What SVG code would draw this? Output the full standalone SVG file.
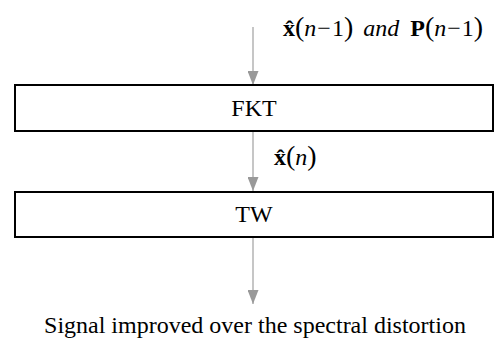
<svg xmlns="http://www.w3.org/2000/svg" width="495" height="342" viewBox="0 0 495 342">
<style>
.box{fill:#fff;stroke:#000;stroke-width:2}
.lbl{font-family:"Liberation Serif","Times New Roman","DejaVu Serif",serif;font-size:24px;fill:#000}
.conn{stroke:#b3b3b3;stroke-width:1.5;fill:none}
.b{font-weight:bold}
.i{font-style:italic}
.p{font-size:28px}
</style>
<defs>
<marker id="ah" markerUnits="userSpaceOnUse" markerWidth="14" markerHeight="11" refX="14" refY="5.5" orient="auto" viewBox="0 0 14 11">
<path d="M0,0 L14,5.5 L0,11 z" fill="#999"/>
</marker>
</defs>
<rect width="495" height="342" fill="#fff"/>
<g id="connectors">
<line class="conn" x1="253" y1="27" x2="253" y2="85" marker-end="url(#ah)"/>
<line class="conn" x1="253" y1="132" x2="253" y2="191" marker-end="url(#ah)"/>
<line class="conn" x1="253" y1="238" x2="253" y2="304" marker-end="url(#ah)"/>
</g>
<g id="input">
<text class="lbl" x="283" y="36"><tspan class="b">x̂</tspan><tspan class="p">(</tspan><tspan class="i">n</tspan><tspan dx="1">−</tspan><tspan dx="1">1</tspan><tspan class="p">)</tspan><tspan class="i" dx="10">and</tspan><tspan class="b" dx="11">P</tspan><tspan class="p">(</tspan><tspan class="i">n</tspan><tspan dx="1">−</tspan><tspan dx="1">1</tspan><tspan class="p">)</tspan></text>
</g>
<g id="FKT">
<rect class="box" x="15" y="85" width="478" height="46"/>
<text class="lbl" x="254" y="116" text-anchor="middle">FKT</text>
</g>
<g id="edge-label">
<text class="lbl" x="274" y="165"><tspan class="b">x̂</tspan><tspan class="p">(</tspan><tspan class="i">n</tspan><tspan class="p">)</tspan></text>
</g>
<g id="TW">
<rect class="box" x="15" y="192" width="478" height="45"/>
<text class="lbl" x="254" y="222" text-anchor="middle">TW</text>
</g>
<g id="output">
<text class="lbl" x="255" y="333" text-anchor="middle">Signal improved over the spectral distortion</text>
</g>
</svg>
